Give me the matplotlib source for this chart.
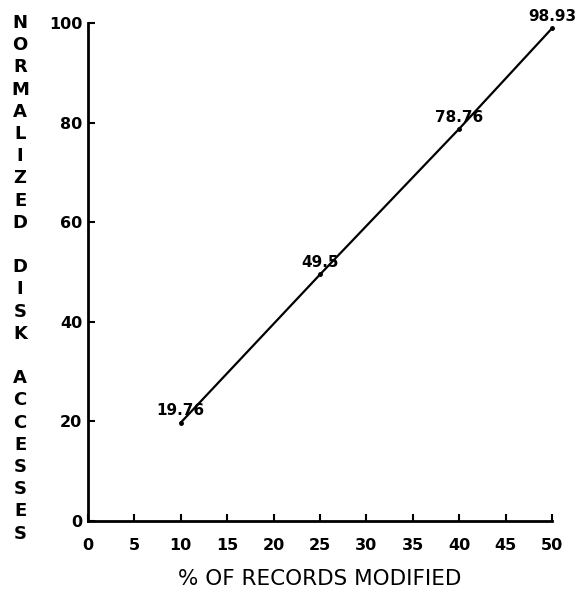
import matplotlib
matplotlib.use("Agg")
import matplotlib.pyplot as plt

# values
pct_modified = [10, 25, 40, 50]
disk_accesses = [19.76, 49.5, 78.76, 98.93]
point_labels = ["19.76", "49.5", "78.76", "98.93"]
x_ticks = [0, 5, 10, 15, 20, 25, 30, 35, 40, 45, 50]
y_ticks = [0, 20, 40, 60, 80, 100]
y_title = "NORMALIZED DISK ACCESSES"
x_title = "% OF RECORDS MODIFIED"

plt.rcParams['font.family'] = ['DejaVu Sans']

W, H = 587, 592
fig = plt.figure(figsize=(W / 100, H / 100), dpi=100)
ax = fig.add_axes([88 / W, 1 - 521 / H, (552 - 88) / W, (521 - 23) / H])

ax.plot(pct_modified, disk_accesses, color='black', lw=1.6,
        marker='o', markersize=2.5, clip_on=False)

for x, y, s in zip(pct_modified, disk_accesses, point_labels):
    ax.annotate(s, (x, y), xytext=(0, 3), textcoords='offset points',
                ha='center', va='bottom', fontsize=11, weight='bold')

ax.set_xlim(0, 50)
ax.set_ylim(0, 100)
ax.set_xticks(x_ticks)
ax.set_yticks(y_ticks)
ax.tick_params(axis='both', direction='in', length=5, width=1.5,
               labelsize=11.5)
ax.tick_params(axis='x', pad=12)
ax.tick_params(axis='y', pad=4)
for lab in ax.get_xticklabels() + ax.get_yticklabels():
    lab.set_fontweight('bold')

for side in ['top', 'right']:
    ax.spines[side].set_visible(False)
for side in ['left', 'bottom']:
    ax.spines[side].set_linewidth(2)

ax.set_xlabel(x_title, fontsize=15.5, labelpad=12)

# stacked vertical title, one letter per line
top_px, step_px = 23, 22.2
for i, ch in enumerate(y_title):
    if ch == ' ':
        continue
    fig.text(20 / W, 1 - (top_px + i * step_px) / H, ch,
             ha='center', va='center', fontsize=13, weight='bold')

fig.savefig("out.png", dpi=100)
